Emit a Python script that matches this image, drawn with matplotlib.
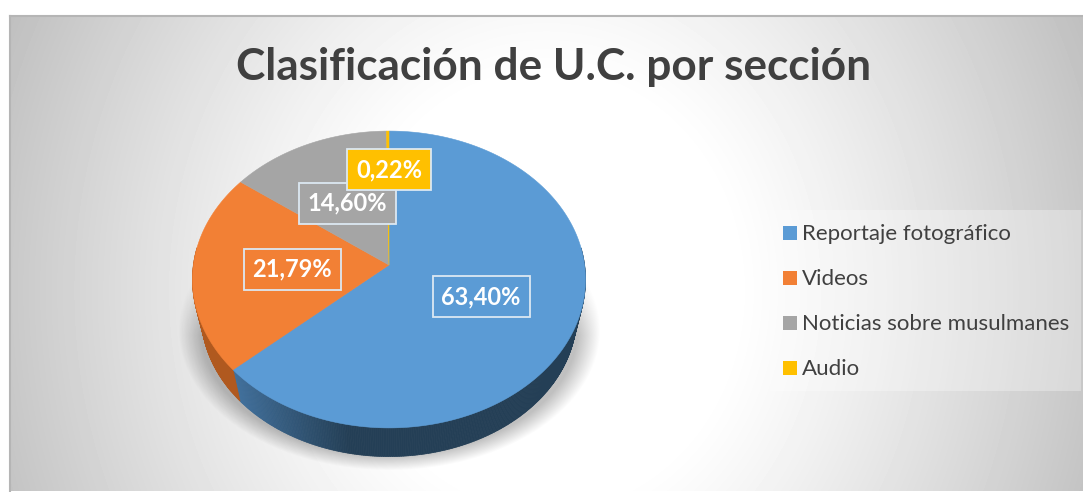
import numpy as np
import matplotlib
matplotlib.use("Agg")
import matplotlib.pyplot as plt
from matplotlib.patches import Polygon, Rectangle
from matplotlib.collections import PolyCollection

plt.rcParams["font.family"] = ["Lato", "DejaVu Sans"]

title = "Clasificación de U.C. por sección"
categories = ["Reportaje fotográfico", "Videos", "Noticias sobre musulmanes", "Audio"]
values = [63.40, 21.79, 14.60, 0.22]
value_labels = ["63,40%", "21,79%", "14,60%", "0,22%"]
colors = ["#5B9BD5", "#F28035", "#A5A5A5", "#FFC000"]
wall_colors = ["#243F56", "#B0591F", "#6E6E6E", "#AA8000"]
label_radius = [0.5, 0.5, 0.5, 0.7]
W, H = 1083, 492

# pie geometry in pixels, perspective ellipse
cx, cy = 389, 265
A, B, p = 195.6, 147.0, 0.0976
wall_scale, wall_drop = 0.955, 36


def project(theta, r=1.0):
    # theta clockwise from the top, in radians
    u = r * np.sin(theta)
    v = -r * np.cos(theta)
    w = 1 - p * v
    return A * u / w, B * v / w


fig = plt.figure(figsize=(W / 100, H / 100), dpi=100)
ax = fig.add_axes([0, 0, 1, 1])
ax.set_xlim(0, W)
ax.set_ylim(H, 0)
ax.axis("off")

# background, radial gradient
yy, xx = np.mgrid[15:491, 9:1083]
t = np.hypot((xx - 546) / 536, (yy - 290) / 600)
grey = 1 - 0.25 * np.clip((t - 0.35) / 0.75, 0, 1) ** 1.15
ax.imshow(grey, extent=[9, 1083, 491, 15], cmap="gray", vmin=0, vmax=1, aspect="auto", zorder=0)
ax.plot([9.5, 9.5], [H, 15.5], color="#b5b5b5", lw=1.5, zorder=1)
ax.plot([9.5, W], [15.5, 15.5], color="#b5b5b5", lw=1.5, zorder=1)

# soft shadow under the pie
yy, xx = np.mgrid[240:480, 170:610]
d = np.hypot((xx - cx) / 211, (yy - 330) / 140)
alpha = np.clip((1.0 - d) / 0.11, 0, 1) * np.clip((yy - 245) / 90, 0, 1) * 0.25
shadow = np.zeros(d.shape + (4,))
shadow[..., 3] = alpha
ax.imshow(shadow, extent=[170, 610, 480, 240], aspect="auto", zorder=2)

shares = np.array(values) / sum(values)
edges = np.concatenate([[0], np.cumsum(shares)]) * 2 * np.pi

# side wall, one thin quad per step
quads, quad_colors = [], []
for i in range(len(values)):
    th = np.linspace(edges[i], edges[i + 1], max(int(shares[i] * 720), 2))
    for a, b in zip(th[:-1], th[1:]):
        mid = (a + b) / 2
        if np.cos(mid) > 0.12:
            continue
        xa, ya = project(a)
        xb, yb = project(b)
        quads.append([
            (cx + xa, cy + ya), (cx + xb, cy + yb),
            (cx + xb * wall_scale, cy + yb * wall_scale + wall_drop),
            (cx + xa * wall_scale, cy + ya * wall_scale + wall_drop),
        ])
        c = np.array(matplotlib.colors.to_rgb(wall_colors[i]))
        if i == 0:
            # lighter towards the left end of the blue wall
            f = np.clip((cx + xa - 233) / 115, 0, 1)
            c = c + (1 - f) * (np.array(matplotlib.colors.to_rgb("#41709C")) - c)
        quad_colors.append(c)
ax.add_collection(PolyCollection(quads, facecolors=quad_colors, edgecolors=quad_colors, lw=0.5, zorder=3))

# top face
for i in range(len(values)):
    th = np.linspace(edges[i], edges[i + 1], max(int(shares[i] * 720), 2))
    xs, ys = project(th)
    pts = np.column_stack([np.r_[0, xs] + cx, np.r_[0, ys] + cy])
    ax.add_patch(Polygon(pts, closed=True, facecolor=colors[i], edgecolor=colors[i], lw=0.4, zorder=4))

# data labels
for i, lab in enumerate(value_labels):
    x, y = project((edges[i] + edges[i + 1]) / 2, label_radius[i])
    ax.text(cx + x + 1, cy + y + 1, lab, color="white", fontsize=17, fontweight="bold",
            ha="center", va="center", zorder=5 + i,
            bbox=dict(boxstyle="square,pad=0.37", facecolor=colors[i], edgecolor="#DCE8F2", lw=1.3))

ax.text(553.5, 80, title, color="#404040", fontsize=31.8, fontweight="bold", ha="center", va="baseline", zorder=6)

# legend
ax.add_patch(Rectangle((770, 210), 311, 181, facecolor="white", alpha=0.3, edgecolor="none", zorder=3))
for i, name in enumerate(categories):
    y = 233 + 45 * i
    ax.add_patch(Rectangle((783, y - 7), 14, 14, facecolor=colors[i], edgecolor="none", zorder=5))
    ax.text(802, y + 7, name, color="#404040", fontsize=16, ha="left", va="baseline", zorder=5)

fig.savefig("out.png", dpi=100)
